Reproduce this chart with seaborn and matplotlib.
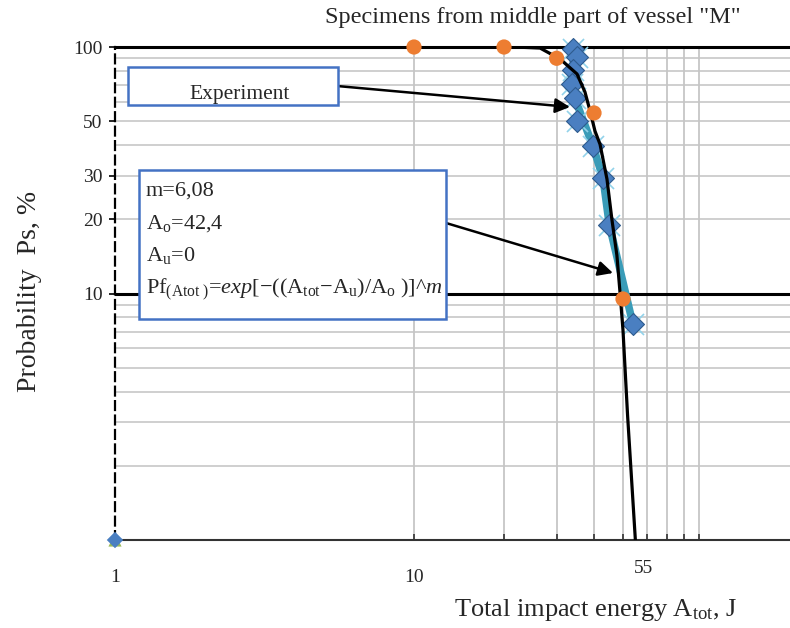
import numpy as np
import pandas as pd
import matplotlib
matplotlib.use("Agg")
import matplotlib.pyplot as plt
import matplotlib.transforms as mtrans
from matplotlib.patches import Rectangle
import seaborn as sns

# ---------------- data ----------------
exp_energy = [34.0, 35.1, 34.0, 33.7, 34.5, 35.1, 39.7, 42.9, 45.0, 54.0]
exp_prob = [98.0, 91.0, 81.0, 71.0, 62.0, 50.0, 39.5, 29.3, 19.0, 7.5]

fit_energy = [10, 20, 30, 40, 50]
fit_prob = [100.0, 100.0, 90.0, 54.0, 9.5]

curve_energy = [20.2, 23.5, 26.4, 30.8, 35.1, 37.3, 38.8, 40.3, 41.9,
                44.2, 45.9, 47.7, 48.9, 50.0, 51.8, 55.0]
curve_prob = [100.0, 99.6, 99.0, 89.4, 77.7, 65.7, 55.0, 45.6, 40.3,
              29.1, 20.0, 14.3, 10.0, 7.1, 3.2, 1.0]

origin_energy = [1.0]
origin_prob = [1.0]

y_tick_values = [10, 20, 30, 50, 100]
y_tick_labels = ["10", "20", "30", "50", "100"]
x_tick_values = [1, 10, 55]
x_tick_labels = ["1", "10", "55"]

title_text = 'Specimens from middle part of vessel "M"'
x_label = r"Total impact energy A$_{\mathrm{tot}}$, J"
y_label = "Probability  Ps, %"
box1_text = "Experiment"
box2_lines = ["m=6,08",
              r"A$_{\mathrm{o}}$=42,4",
              r"A$_{\mathrm{u}}$=0",
              r"Pf$_{(\mathrm{Atot}\ )}$=$\mathit{exp}$[−((A$_{\mathrm{tot}}$−A$_{\mathrm{u}}$)/A$_{\mathrm{o}}$ )]^$\mathit{m}$"]

# ---------------- style ----------------
sns.set_style("white")
plt.rcParams["font.family"] = ["Liberation Serif", "DejaVu Serif"]
plt.rcParams["mathtext.fontset"] = "custom"
plt.rcParams["mathtext.rm"] = "Liberation Serif"
plt.rcParams["mathtext.it"] = "Liberation Serif:italic"
plt.rcParams["mathtext.bf"] = "Liberation Serif:bold"

W, H = 790, 628
fig = plt.figure(figsize=(W / 100, H / 100), dpi=100)
ax = fig.add_axes([115 / W, 1 - 540 / H, (W - 115) / W, (540 - 47) / H])


def fp(x, y):
    return (x / W, 1 - y / H)


exp_df = pd.DataFrame({"energy": exp_energy, "prob": exp_prob})
fit_df = pd.DataFrame({"energy": fit_energy, "prob": fit_prob})
curve_df = pd.DataFrame({"energy": curve_energy, "prob": curve_prob})
origin_df = pd.DataFrame({"energy": origin_energy, "prob": origin_prob})

# experimental polyline + markers
sns.lineplot(data=exp_df, x="energy", y="prob", sort=False, color="#3a9cb8",
             lw=5.5, ax=ax, zorder=3)
sns.scatterplot(data=exp_df, x="energy", y="prob", marker="x", s=230,
                color="#92d2ea", linewidth=1.2, ax=ax, zorder=4, clip_on=False)
sns.scatterplot(data=exp_df, x="energy", y="prob", marker="D", s=125,
                color="#4a7fc1", edgecolor="#2e5b8e", linewidth=0.8, ax=ax,
                zorder=5, clip_on=False)
# fitted Weibull curve
sns.lineplot(data=curve_df, x="energy", y="prob", sort=False, color="black",
             lw=2.3, ax=ax, zorder=6)
sns.scatterplot(data=fit_df, x="energy", y="prob", marker="o", s=120,
                color="#ED7D31", edgecolor="none", ax=ax, zorder=7, clip_on=False)
# points at the origin corner
sns.scatterplot(data=origin_df, x="energy", y="prob", marker="^", s=90,
                color="#9BBB59", edgecolor="none", ax=ax, zorder=7, clip_on=False)
sns.scatterplot(data=origin_df, x="energy", y="prob", marker="D", s=70,
                color="#4a7fc1", edgecolor="none", ax=ax, zorder=8, clip_on=False)

ax.set_xscale("log")
ax.set_yscale("log")
ax.set_xlim(1, 10 ** ((W - 115) / 299))
ax.set_ylim(1, 100)

# grid lines
for v in [2, 3, 4, 5, 6, 7, 8, 9, 20, 30, 40, 50, 60, 70, 80, 90]:
    ax.axhline(v, color="#cfcfcf", lw=1.4, zorder=0)
ax.axhline(10, color="black", lw=2.2, zorder=1)
for v in [10, 20, 30, 40, 50, 60, 70, 80, 90]:
    ax.axvline(v, color="#c6c6c6", lw=1.3, zorder=0)

# spines
ax.spines["right"].set_visible(False)
ax.spines["top"].set_color("black")
ax.spines["top"].set_linewidth(2.2)
ax.spines["bottom"].set_color("#333333")
ax.spines["bottom"].set_linewidth(1.5)
ax.spines["left"].set_color("black")
ax.spines["left"].set_linewidth(1.6)
ax.spines["left"].set_linestyle((0, (4, 2.5)))

# ticks
ax.set_yticks(y_tick_values)
ax.set_yticklabels(y_tick_labels, fontsize=14)
ax.yaxis.set_minor_locator(matplotlib.ticker.NullLocator())
ax.tick_params(axis="y", which="major", length=4, width=1.2, pad=5,
               direction="out", color="black", left=True)

ax.xaxis.remove_overlapping_locs = False
ax.set_xticks(x_tick_values)
ax.set_xticklabels(x_tick_labels, fontsize=14)
ax.set_xticks([10, 20, 30, 40, 50, 60, 70, 80, 90], minor=True)
ax.xaxis.set_minor_formatter(matplotlib.ticker.NullFormatter())
ax.tick_params(axis="x", which="major", length=0, pad=21)
ax.tick_params(axis="x", which="minor", length=4, width=1.2, direction="in",
               color="#333333", bottom=True)
# "55" label sits a bit higher and to the right in the reference
lab55 = ax.get_xticklabels()[2]
lab55.set_transform(lab55.get_transform()
                    + mtrans.ScaledTranslation(0.08, 0.09, fig.dpi_scale_trans))

ax.set_xlabel("")
ax.set_ylabel("")

# titles / axis labels
fig.text(*fp(533, 18), title_text, ha="center", va="center", fontsize=17.5)
fig.text(*fp(596, 610), x_label, ha="center", va="center", fontsize=19)
fig.text(*fp(30, 291), y_label, ha="center", va="center", fontsize=20,
         rotation=90)

# annotation boxes
box_color = "#4472C4"
x0, y0 = fp(128, 105)
fig.add_artist(Rectangle((x0, y0), (338 - 128) / W, (105 - 67) / H,
                         transform=fig.transFigure, fc="white", ec=box_color,
                         lw=1.8, zorder=10))
fig.text(*fp(240, 94), box1_text, ha="center", va="center", fontsize=15.5,
         zorder=11)

x0, y0 = fp(139, 319)
fig.add_artist(Rectangle((x0, y0), (446 - 139) / W, (319 - 170) / H,
                         transform=fig.transFigure, fc="white", ec=box_color,
                         lw=1.8, zorder=10))
for i, line in enumerate(box2_lines):
    fig.text(*fp(146, 196 + i * 32.5), line, ha="left", va="baseline",
             fontsize=16, zorder=11)

# arrows
arrow_kw = dict(arrowstyle="-|>", color="black", lw=1.8, mutation_scale=22,
                shrinkA=0, shrinkB=0)
ax.annotate("", xy=fp(570, 107), xycoords="figure fraction",
            xytext=fp(337, 86), textcoords="figure fraction",
            arrowprops=arrow_kw, zorder=9, annotation_clip=False)
ax.annotate("", xy=fp(613, 273), xycoords="figure fraction",
            xytext=fp(446, 223), textcoords="figure fraction",
            arrowprops=arrow_kw, zorder=9, annotation_clip=False)

fig.savefig("out.png", dpi=100)
